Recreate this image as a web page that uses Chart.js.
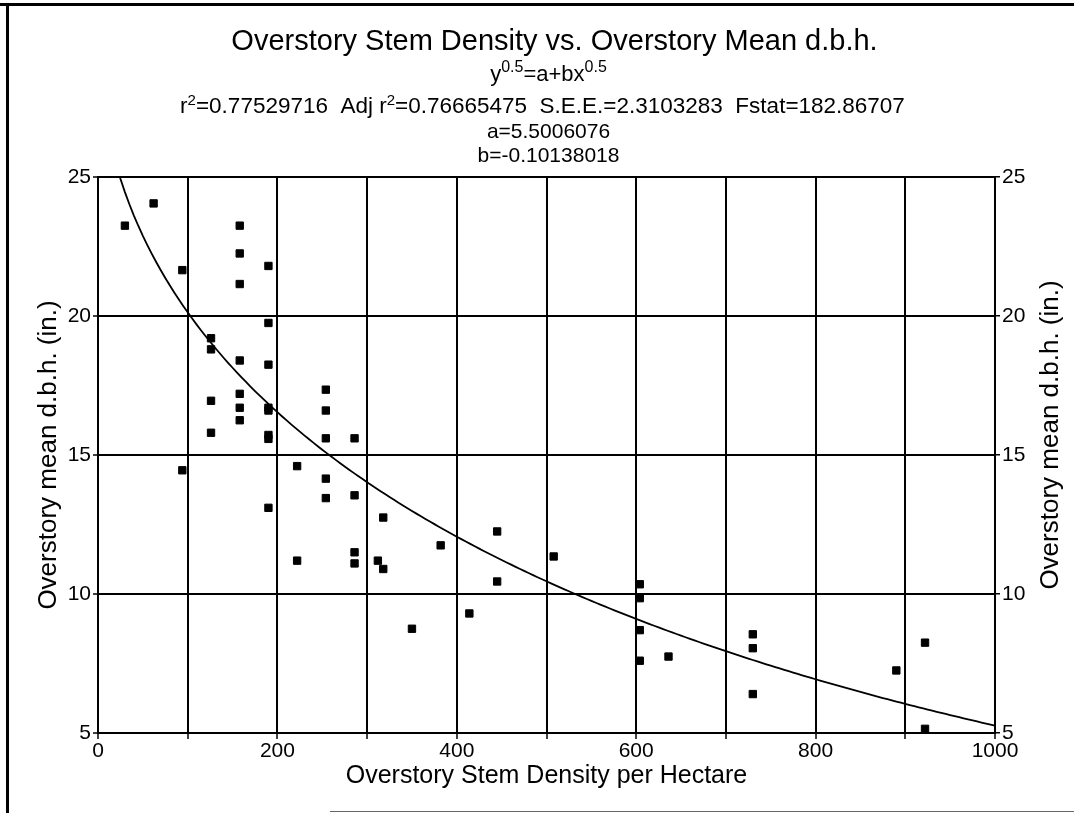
<!DOCTYPE html>
<html><head><meta charset="utf-8">
<script src="https://cdn.jsdelivr.net/npm/chart.js@4.4.1/dist/chart.umd.min.js"></script>
<style>html,body{margin:0;padding:0;background:#fff;} #wrap{width:1074px;height:813px;position:relative}</style>
</head><body><div id="wrap"><canvas id="c" width="1074" height="813"></canvas></div>
<script>
// ---- data ----
const density = [30, 62, 94, 94, 126, 126, 126, 126, 158, 158, 158, 158, 158, 158, 158,
  190, 190, 190, 190, 190, 190, 190, 190, 222, 222, 254, 254, 254, 254, 254,
  286, 286, 286, 286, 312, 318, 318, 350, 382, 414, 445, 445, 508,
  604, 604, 604, 604, 636, 730, 730, 730, 890, 922, 922];
const meanDbh = [23.25, 24.05, 21.65, 14.45, 19.2, 18.8, 16.95, 15.8, 23.25, 22.25, 21.15, 18.4, 17.2, 16.7, 16.25,
  21.8, 19.75, 18.25, 16.7, 16.6, 15.72, 15.58, 13.1, 14.6, 11.2, 17.35, 16.6, 15.6, 14.15, 13.45,
  15.6, 13.55, 11.5, 11.1, 11.2, 12.75, 10.9, 8.75, 11.75, 9.3, 12.25, 10.45, 11.35,
  10.35, 9.85, 8.7, 7.6, 7.75, 8.55, 8.05, 6.4, 7.25, 8.25, 5.15];
// fitted model printed on the chart: y^0.5 = a + b x^0.5
const fitA = 5.5006076;
const fitB = -0.10138018;
const fitStats = { r2: '0.77529716', adjR2: '0.76665475', see: '2.3103283', fstat: '182.86707' };
const xTickValues = [0, 200, 400, 600, 800, 1000];
const yTickValues = [5, 10, 15, 20, 25];
const chartTitle = 'Overstory Stem Density vs. Overstory Mean d.b.h.';
const xAxisTitle = 'Overstory Stem Density per Hectare';
const yAxisTitle = 'Overstory mean d.b.h. (in.)';

const FONT = "'Liberation Sans', Arial, Helvetica, sans-serif";

const points = density.map((x, i) => ({ x: x, y: meanDbh[i] }));
const curve = [];
for (let x = 0; x <= 1000; x += 5) {
  const r = fitA + fitB * Math.sqrt(x);
  curve.push({ x: x, y: r * r });
}

function drawRuns(ctx, runs, cx, y) {
  let total = 0;
  runs.forEach(r => { ctx.font = r.size + 'px ' + FONT; r.w = ctx.measureText(r.t).width; total += r.w; });
  let x = cx - total / 2;
  runs.forEach(r => { ctx.font = r.size + 'px ' + FONT; ctx.fillText(r.t, x, y + (r.dy || 0)); x += r.w; });
}

const decor = {
  id: 'decor',
  beforeDraw(chart) {
    const ctx = chart.ctx;
    ctx.save();
    ctx.fillStyle = '#fff';
    ctx.fillRect(0, 0, chart.width, chart.height);
    ctx.restore();
  },
  afterDraw(chart) {
    const ctx = chart.ctx;
    const ca = chart.chartArea;
    const cx = (ca.left + ca.right) / 2 + 2;
    ctx.save();
    ctx.fillStyle = '#000';
    ctx.textAlign = 'left';
    ctx.textBaseline = 'alphabetic';
    drawRuns(ctx, [{ t: chartTitle, size: 29 }], cx + 6, 50);
    drawRuns(ctx, [{ t: 'y', size: 22 }, { t: '0.5', size: 16, dy: -9 }, { t: '=a+bx', size: 22 }, { t: '0.5', size: 16, dy: -9 }], cx, 81);
    drawRuns(ctx, [
      { t: 'r', size: 22.5 }, { t: '2', size: 15, dy: -8 }, { t: '=' + fitStats.r2 + '  Adj r', size: 22.5 },
      { t: '2', size: 15, dy: -8 }, { t: '=' + fitStats.adjR2 + '  S.E.E.=' + fitStats.see + '  Fstat=' + fitStats.fstat, size: 22.5 }
    ], cx - 6, 113);
    drawRuns(ctx, [{ t: 'a=' + fitA, size: 21 }], cx, 138);
    drawRuns(ctx, [{ t: 'b=' + fitB, size: 21 }], cx, 162);
    // vertical axis titles (both read bottom-to-top)
    const cy = (ca.top + ca.bottom) / 2;
    ctx.font = '26px ' + FONT;
    ctx.textAlign = 'center';
    [[56, cy], [1058, cy - 20]].forEach(p => {
      ctx.save();
      ctx.translate(p[0], p[1]);
      ctx.rotate(-Math.PI / 2);
      ctx.fillText(yAxisTitle, 0, 0);
      ctx.restore();
    });
    // page frame
    ctx.fillStyle = '#000';
    ctx.fillRect(0, 3, 1074, 3);
    ctx.fillRect(6, 3, 3, 810);
    ctx.fillStyle = '#666';
    ctx.fillRect(330, 811, 744, 1);
    ctx.restore();
  }
};

new Chart(document.getElementById('c'), {
  type: 'scatter',
  data: {
    datasets: [
      { label: 'fit', type: 'line', data: curve, borderColor: '#000', borderWidth: 1.8, pointRadius: 0, fill: false, tension: 0, yAxisID: 'y', order: 2 },
      { label: 'obs', data: points, pointStyle: 'rect', pointRadius: 5.2, backgroundColor: '#000', borderColor: '#000', borderWidth: 1, yAxisID: 'y', clip: false, order: 1 }
    ]
  },
  options: {
    responsive: false,
    animation: false,
    devicePixelRatio: 1,
    layout: { padding: { top: 177, left: 0, right: 0, bottom: 0 } },
    plugins: { legend: { display: false }, tooltip: { enabled: false }, title: { display: false } },
    scales: {
      x: {
        type: 'linear', min: 0, max: 1000,
        afterFit(s) { s.height = 80; },
        ticks: {
          stepSize: 100, autoSkip: false, maxRotation: 0, color: '#000', padding: 0,
          font: { family: FONT, size: 21 },
          callback: v => (xTickValues.includes(v) ? String(v) : '')
        },
        grid: { color: '#000', lineWidth: 2, tickLength: 6, tickColor: '#000', tickWidth: 1.5 },
        border: { color: '#000', width: 2 },
        title: { display: true, text: xAxisTitle, color: '#000', font: { family: FONT, size: 25 }, padding: { top: 0, bottom: 22 } }
      },
      y: {
        type: 'linear', position: 'left', min: 5, max: 25,
        afterFit(s) { s.width = 98; },
        ticks: { stepSize: 5, color: '#000', padding: 2, font: { family: FONT, size: 21 },
          callback: v => (yTickValues.includes(v) ? String(v) : '') },
        grid: { color: '#000', lineWidth: 2, tickLength: 5, tickColor: '#000', tickWidth: 1.5 },
        border: { color: '#000', width: 2 }
      },
      y2: {
        type: 'linear', position: 'right', min: 5, max: 25,
        afterFit(s) { s.width = 79; },
        ticks: { stepSize: 5, color: '#000', padding: 2, font: { family: FONT, size: 21 },
          callback: v => (yTickValues.includes(v) ? String(v) : '') },
        grid: { drawOnChartArea: false, color: '#000', lineWidth: 1.5, tickLength: 5, tickColor: '#000' },
        border: { color: '#000', width: 2 }
      }
    }
  },
  plugins: [decor]
});
</script>
</body></html>
